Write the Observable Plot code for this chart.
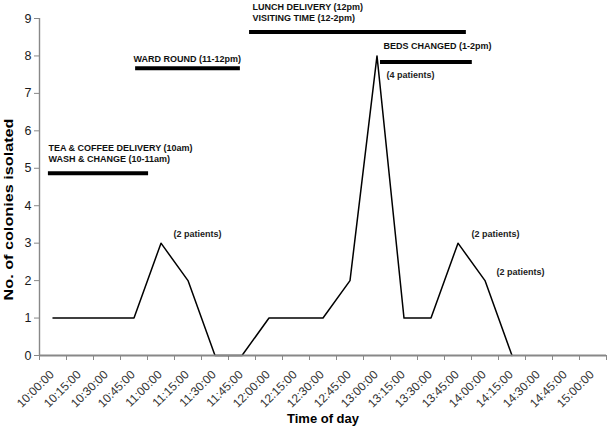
<!DOCTYPE html>
<html>
<head>
<meta charset="utf-8">
<script src="https://cdn.jsdelivr.net/npm/d3@7"></script>
<script src="https://cdn.jsdelivr.net/npm/@observablehq/plot@0.6"></script>
<style>
  body { margin: 0; background: #fff; }
</style>
</head>
<body>
<div id="chart"></div>
<script>
// Categories (time of day, 15-minute steps)
const times = ["10:00:00","10:15:00","10:30:00","10:45:00","11:00:00","11:15:00","11:30:00",
  "11:45:00","12:00:00","12:15:00","12:30:00","12:45:00","13:00:00","13:15:00","13:30:00",
  "13:45:00","14:00:00","14:15:00","14:30:00","14:45:00","15:00:00"];
// Number of colonies isolated (series ends at 14:15)
const colonies = [1,1,1,1,3,2,0,0,1,1,1,2,8,1,1,3,2,0];
const yTicks = [0,1,2,3,4,5,6,7,8,9];

// Ward activity bars (in category-index units along x, colony units along y)
const eventLabels = [
  "TEA & COFFEE DELIVERY (10am)\nWASH & CHANGE (10-11am)",
  "WARD ROUND (11-12pm)",
  "LUNCH DELIVERY (12pm)\nVISITING TIME (12-2pm)",
  "BEDS CHANGED (1-2pm)"
];
const eventStart = [-0.17, 3.06, 7.28, 12.13];
const eventEnd   = [3.54, 6.94, 15.31, 15.53];
const eventLevel = [4.87, 7.67, 8.64, 7.84];
const eventTextX = [-0.17, 2.98, 7.39, 12.24];
const eventTextY = [5.67, 8.04, 9.42, 8.40];

// Patient notes
const noteLabels = ["(4 patients)","(2 patients)","(2 patients)","(2 patients)"];
const noteX = [12.35, 4.46, 15.5, 16.43];
const noteY = [7.59, 3.33, 3.33, 2.31];

const idx = times.map((_, i) => i);
const boundaries = d3.range(times.length + 1).map(i => i - 0.5);
const lineData = colonies.map((v, i) => ({x: i, y: v}));
const ev = d3.range(eventLabels.length);
const nt = d3.range(noteLabels.length);

const chart = Plot.plot({
  width: 609,
  height: 430,
  marginLeft: 39,
  marginRight: 3,
  marginTop: 18,
  marginBottom: 75,
  style: {fontFamily: "'Liberation Sans', Arial, sans-serif", background: "#fff", color: "#1a1a1a"},
  x: {domain: [-0.5, times.length - 0.5], axis: null},
  y: {domain: [0, 9], axis: null},
  marks: [
    Plot.axisY({ticks: yTicks, tickSize: 5, tickPadding: 3, fontSize: 12.5, label: null, stroke: "#888"}),
    Plot.axisX({ticks: boundaries, tickSize: 5, tickFormat: () => "", label: null, stroke: "#888"}),
    Plot.text(idx, {x: d => d, y: 0, text: d => times[d], rotate: -45, textAnchor: "end",
      dy: 17, dx: -1, fontSize: 12, fill: "#333"}),
    Plot.line(lineData, {x: "x", y: "y", stroke: "#000", strokeWidth: 1.5}),
    Plot.ruleX([-0.5], {stroke: "#888", strokeWidth: 1.4}),
    Plot.ruleY([0], {stroke: "#888", strokeWidth: 1.8}),
    Plot.ruleY(ev, {y: i => eventLevel[i], x1: i => eventStart[i], x2: i => eventEnd[i],
      stroke: "#000", strokeWidth: 4}),
    Plot.text(ev, {x: i => eventTextX[i], y: i => eventTextY[i], text: i => eventLabels[i],
      textAnchor: "start", lineAnchor: "top", lineHeight: 1.2, fontSize: 9, fontWeight: "bold", fill: "#111"}),
    Plot.text(nt, {x: i => noteX[i], y: i => noteY[i], text: i => noteLabels[i],
      textAnchor: "start", lineAnchor: "top", fontSize: 9, fontWeight: "bold", fill: "#222"}),
    Plot.text(["No. of colonies isolated"], {frameAnchor: "left", rotate: -90, textAnchor: "middle",
      lineAnchor: "middle", dx: -31, dy: 22.5, fontSize: 13, fontWeight: "bold", fill: "#000"}),
    Plot.text(["Time of day"], {frameAnchor: "bottom", textAnchor: "middle", lineAnchor: "middle",
      dy: 63.8, fontSize: 13, fontWeight: "bold", fill: "#000"})
  ]
});
document.getElementById("chart").appendChild(chart);
d3.select(chart).selectAll("text")
  .filter(function() { return this.textContent === "No. of colonies isolated"; })
  .attr("textLength", 182).attr("lengthAdjust", "spacingAndGlyphs");
</script>
</body>
</html>
